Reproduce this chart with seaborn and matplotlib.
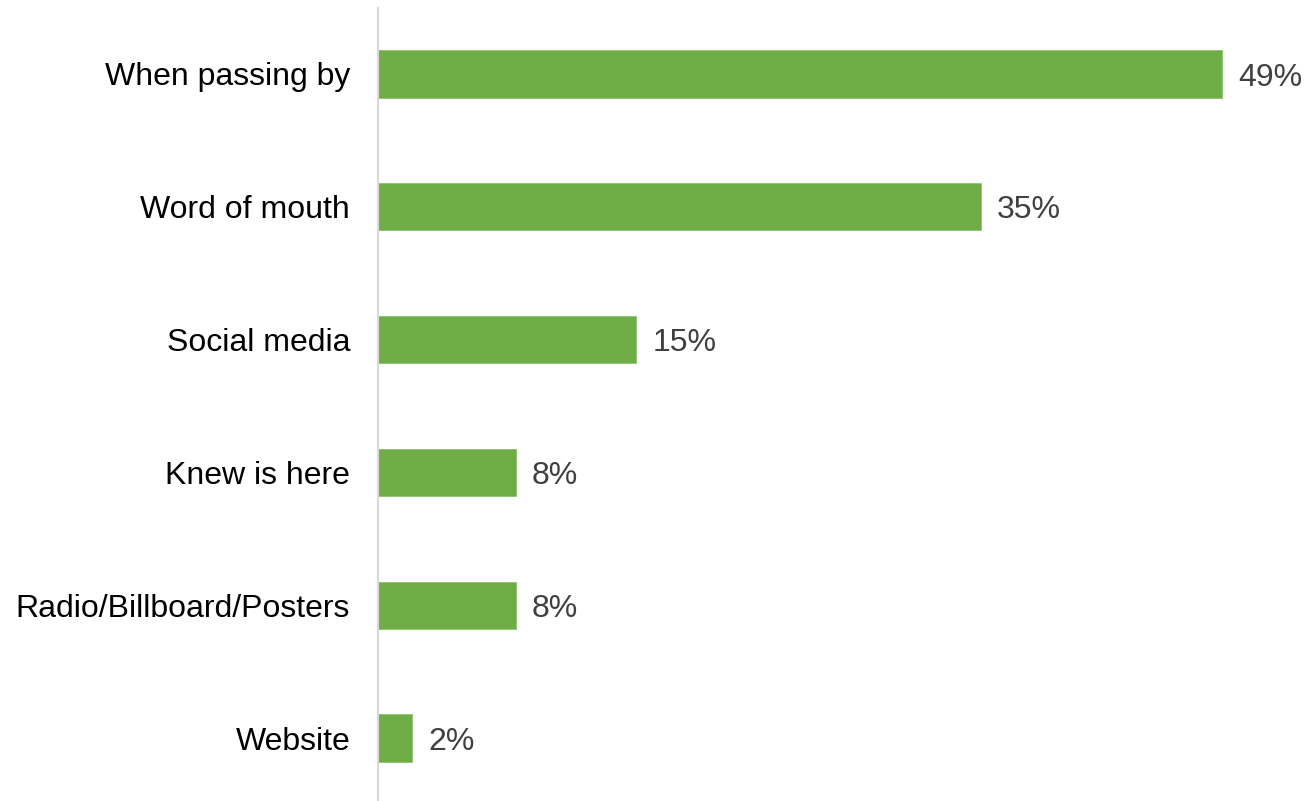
import matplotlib
matplotlib.use("Agg")
import matplotlib.pyplot as plt
import seaborn as sns
import pandas as pd

categories = ["When passing by", "Word of mouth", "Social media", "Knew is here",
              "Radio/Billboard/Posters", "Website"]
values = [49, 35, 15, 8, 8, 2]
labels = ["49%", "35%", "15%", "8%", "8%", "2%"]

sns.set_theme(style="white")
plt.rcParams['font.family'] = ['Liberation Sans', 'DejaVu Sans']

df = pd.DataFrame({"category": categories, "value": values})

W, H = 1309, 801
fig = plt.figure(figsize=(W / 100, H / 100), dpi=100)
left_px, top_px = 378, 7.6
ax = fig.add_axes([left_px / W, 0, 1 - left_px / W, 1 - top_px / H])

sns.barplot(data=df, x="value", y="category", orient="h", color="#70AD47",
            width=0.355, saturation=1, ax=ax, edgecolor="#8CC46A", linewidth=0.6)

px_per_unit = 17.22
ax.set_xlim(0, (W - left_px) / px_per_unit)
span = (H - top_px) / 132.8
ax.set_ylim(-0.5 + span, -0.5)

for i, (v, lab) in enumerate(zip(values, labels)):
    ax.text(v + 16 / px_per_unit, i, lab, va="center_baseline", ha="left",
            fontsize=23, color="#404040")

ax.set_xlabel("")
ax.set_ylabel("")
ax.set_xticks([])
ax.tick_params(axis="y", length=0, pad=20, labelsize=23, labelcolor="black")
for t in ax.get_yticklabels():
    t.set_verticalalignment("center_baseline")
for s in ["top", "right", "bottom"]:
    ax.spines[s].set_visible(False)
ax.spines["left"].set_color("#D9D9D9")
ax.spines["left"].set_linewidth(1.5)

fig.savefig("out.png", dpi=100, facecolor="white")
